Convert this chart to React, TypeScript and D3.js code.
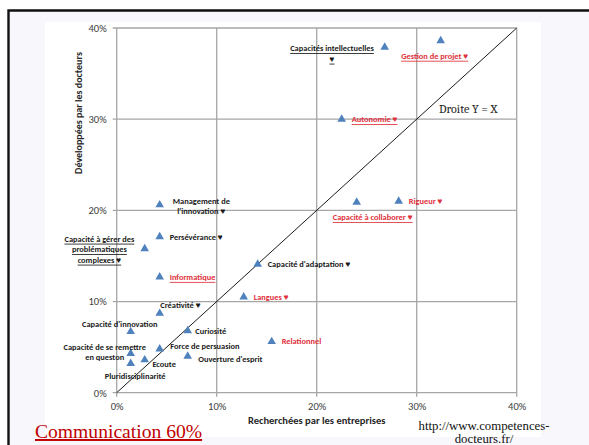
import { useEffect, useRef } from "react";
import * as d3 from "d3";

// compétences (libellés, "\n" = retour à la ligne)
const skills = [
  "Capacités intellectuelles\n♥",
  "Gestion de projet ♥",
  "Autonomie ♥",
  "Capacité à collaborer ♥",
  "Rigueur ♥",
  "Management de\nl'innovation ♥",
  "Persévérance ♥",
  "Capacité à gérer des\nproblématiques\ncomplexes ♥",
  "Capacité d'adaptation ♥",
  "Informatique",
  "Langues ♥",
  "Créativité ♥",
  "Capacité d'innovation",
  "Curiosité",
  "Relationnel",
  "Force de persuasion",
  "Capacité de se remettre\nen queston",
  "Ouverture d'esprit",
  "Ecoute",
  "Pluridisciplinarité",
];

// % recherchées par les entreprises
const recherchees = [
  26.8, 32.4, 22.5, 24.0, 28.2, 4.3, 4.3, 2.8, 14.1, 4.3, 12.7, 4.3, 1.4, 7.1,
  15.5, 4.3, 1.4, 7.1, 2.8, 1.4,
];

// % développées par les docteurs
const developpees = [
  37.9, 38.6, 30.0, 20.9, 21.0, 20.6, 17.1, 15.8, 14.1, 12.7, 10.5, 8.7, 6.7,
  6.8, 5.6, 4.8, 4.3, 4.0, 3.6, 3.2,
];

const redSkills = [1, 2, 3, 4, 9, 10, 14];
const underlinedSkills = [0, 1, 2, 3, 7, 9];

const xTicks = [0, 10, 20, 30, 40];
const yTicks = [0, 10, 20, 30, 40];

// placement des étiquettes autour du marqueur : dx, dy, ancrage
const labelOffsets: [number, number, string][] = [
  [-52.7, 1, "middle"],
  [-6, 15, "middle"],
  [10, 0, "start"],
  [16, 15, "middle"],
  [10, 0, "start"],
  [41.6, -4, "middle"],
  [10, 0, "start"],
  [-45.3, -10, "middle"],
  [10, 0, "start"],
  [10, 0, "start"],
  [10, 0, "start"],
  [0.6, -8.4, "start"],
  [-11, -8, "middle"],
  [7.6, 0, "start"],
  [10, -0.7, "start"],
  [10.6, -2.7, "start"],
  [-26, -6.8, "middle"],
  [10.6, 2.6, "start"],
  [7.7, 4.4, "start"],
  [4.5, 12.2, "middle"],
];

const sans = "Carlito, Lato, 'Liberation Sans', sans-serif";
const serif = "'Liberation Serif', 'Times New Roman', serif";

const App = () => {
  const ref = useRef<SVGSVGElement | null>(null);

  useEffect(() => {
    if (!ref.current) return;
    const svg = d3.select(ref.current);
    svg.selectAll("*").remove();

    const width = 589,
      height = 445;

    // fond de la diapositive
    svg.append("rect").attr("width", width).attr("height", height).attr("fill", "#fff");
    svg
      .append("rect")
      .attr("x", 8)
      .attr("y", 10)
      .attr("width", width - 8)
      .attr("height", height - 10)
      .attr("fill", "#f7f7fc");
    svg
      .append("rect")
      .attr("x", 45)
      .attr("y", 22)
      .attr("width", 496)
      .attr("height", 415)
      .attr("fill", "#fff");
    svg
      .append("path")
      .attr("d", `M8.5,${height}V10.5H${width}`)
      .attr("fill", "none")
      .attr("stroke", "#111")
      .attr("stroke-width", 2.4);

    const x = d3.scaleLinear().domain([0, 40]).range([116.7, 516.7]);
    const y = d3.scaleLinear().domain([0, 40]).range([392.7, 28]);

    const grid = svg.append("g").attr("stroke", "#a6a6a6").attr("stroke-width", 1.3);
    grid
      .selectAll("line.h")
      .data(yTicks)
      .enter()
      .append("line")
      .attr("x1", x(0) - 4)
      .attr("x2", x(40))
      .attr("y1", (d) => y(d))
      .attr("y2", (d) => y(d));
    grid
      .selectAll("line.v")
      .data(xTicks)
      .enter()
      .append("line")
      .attr("x1", (d) => x(d))
      .attr("x2", (d) => x(d))
      .attr("y1", y(40))
      .attr("y2", y(0) + 4);

    const fmt = (d: number) => `${d}%`;

    svg
      .append("g")
      .attr("transform", `translate(${x(0)},0)`)
      .call(d3.axisLeft(y).tickValues(yTicks).tickFormat(fmt as any).tickSize(0).tickPadding(10))
      .call((g) => g.select(".domain").remove())
      .selectAll("text")
      .attr("fill", "#404040")
      .style("font-family", sans)
      .style("font-size", "10.5px");

    svg
      .append("g")
      .attr("transform", `translate(0,${y(0)})`)
      .call(d3.axisBottom(x).tickValues(xTicks).tickFormat(fmt as any).tickSize(4).tickPadding(6))
      .call((g) => g.select(".domain").remove())
      .call((g) => g.selectAll("line").remove())
      .selectAll("text")
      .attr("fill", "#404040")
      .style("font-family", sans)
      .style("font-size", "10.5px");

    // droite Y = X
    svg
      .append("line")
      .attr("x1", x(0))
      .attr("y1", y(0))
      .attr("x2", x(40))
      .attr("y2", y(40))
      .attr("stroke", "#1a1a1a")
      .attr("stroke-width", 1);
    svg
      .append("text")
      .attr("x", 439)
      .attr("y", 113)
      .attr("fill", "#222")
      .style("font-family", "Cambria, 'DejaVu Serif', serif")
      .style("font-size", "12px")
      .text("Droite Y = X");

    // titres des axes
    svg
      .append("text")
      .attr("x", x(20))
      .attr("y", 424)
      .attr("text-anchor", "middle")
      .attr("fill", "#262626")
      .style("font-family", sans)
      .style("font-size", "10.5px")
      .style("font-weight", "bold")
      .text("Recherchées par les entreprises");
    svg
      .append("text")
      .attr("transform", "translate(82,113) rotate(-90)")
      .attr("text-anchor", "middle")
      .attr("fill", "#262626")
      .style("font-family", sans)
      .style("font-size", "10px")
      .style("font-weight", "bold")
      .text("Développées par les docteurs");

    // marqueurs
    const tri = d3.symbol().type(d3.symbolTriangle).size(32);
    svg
      .append("g")
      .selectAll("path")
      .data(skills)
      .enter()
      .append("path")
      .attr("d", tri)
      .attr("transform", (_, i) => `translate(${x(recherchees[i])},${y(developpees[i])})`)
      .attr("fill", "#4f81bd");

    // étiquettes
    const labels = svg
      .append("g")
      .style("font-family", sans)
      .style("font-size", "8.4px")
      .style("font-weight", "bold");
    skills.forEach((name, i) => {
      const [dx, dy, anchor] = labelOffsets[i];
      const t = labels
        .append("text")
        .attr("text-anchor", anchor)
        .attr("dominant-baseline", "central")
        .attr("fill", redSkills.includes(i) ? "#e0303a" : "#1a1a1a")
        .style("text-decoration", underlinedSkills.includes(i) ? "underline" : "none");
      name.split("\n").forEach((line, k) => {
        t.append("tspan")
          .attr("x", x(recherchees[i]) + dx)
          .attr("y", y(developpees[i]) + dy + k * 10.5)
          .text(line);
      });
    });

    svg
      .append("text")
      .attr("x", 35)
      .attr("y", 438)
      .attr("fill", "#c00000")
      .style("font-family", serif)
      .style("font-size", "19.6px")
      .style("text-decoration", "underline")
      .text("Communication 60%");

    const url = svg
      .append("text")
      .attr("text-anchor", "middle")
      .attr("fill", "#111")
      .style("font-family", serif)
      .style("font-size", "12.8px");
    url.append("tspan").attr("x", 484).attr("y", 430).text("http://www.competences-");
    url.append("tspan").attr("x", 484).attr("y", 443).text("docteurs.fr/");
  }, []);

  return (
    <svg
      ref={ref}
      width={589}
      height={445}
      style={{ position: "absolute", left: 0, top: 0 }}
    ></svg>
  );
};

export default App;
